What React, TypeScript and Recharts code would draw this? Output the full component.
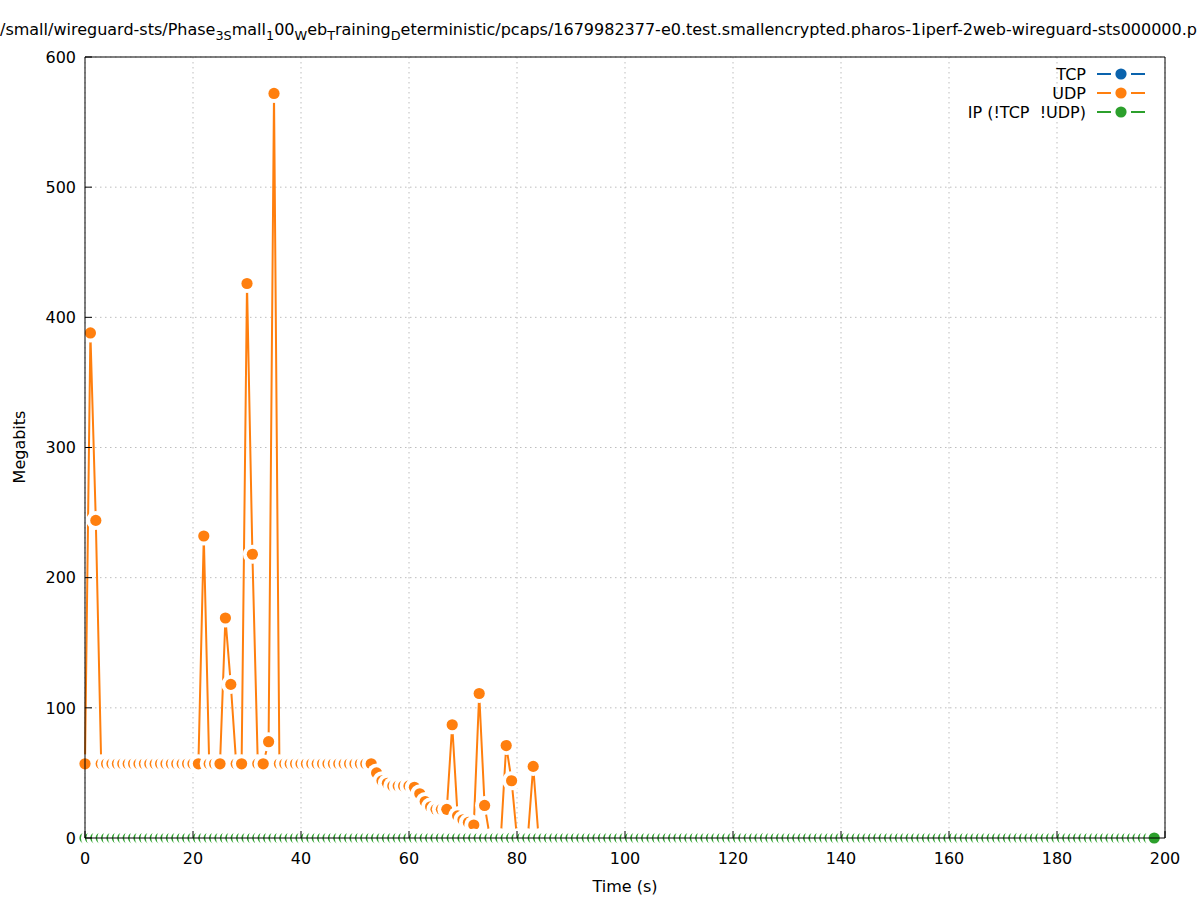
import React from 'react';
import { LineChart, Line, XAxis, YAxis, CartesianGrid } from 'recharts';

const W = 1197;
const H = 900;

// one bin per second, starting at t = 0
const udpMbit = [
  57, 388, 244, 57, 57, 57, 57, 57, 57, 57, // 0-9
  57, 57, 57, 57, 57, 57, 57, 57, 57, 57, // 10-19
  57, 57, 232, 57, 57, 57, 169, 118, 57, 57, // 20-29
  426, 218, 57, 57, 74, 572, 57, 57, 57, 57, // 30-39
  57, 57, 57, 57, 57, 57, 57, 57, 57, 57, // 40-49
  57, 57, 57, 57, 50, 44, 42, 40, 40, 40, // 50-59
  40, 39, 34, 28, 24, 22, 22, 22, 87, 17, // 60-69
  14, 12, 10, 111, 25, 0, 0, 0, 71, 44, // 70-79
  0, 0, 0, 55, 0, // 80-84
];

// IP (!TCP !UDP): flat zero, 0-198 s
const ipMbit = [
  0, 0, 0, 0, 0, 0, 0, 0, 0, 0, 0, 0, 0, 0, 0, 0, 0, 0, 0, 0,
  0, 0, 0, 0, 0, 0, 0, 0, 0, 0, 0, 0, 0, 0, 0, 0, 0, 0, 0, 0,
  0, 0, 0, 0, 0, 0, 0, 0, 0, 0, 0, 0, 0, 0, 0, 0, 0, 0, 0, 0,
  0, 0, 0, 0, 0, 0, 0, 0, 0, 0, 0, 0, 0, 0, 0, 0, 0, 0, 0, 0,
  0, 0, 0, 0, 0, 0, 0, 0, 0, 0, 0, 0, 0, 0, 0, 0, 0, 0, 0, 0,
  0, 0, 0, 0, 0, 0, 0, 0, 0, 0, 0, 0, 0, 0, 0, 0, 0, 0, 0, 0,
  0, 0, 0, 0, 0, 0, 0, 0, 0, 0, 0, 0, 0, 0, 0, 0, 0, 0, 0, 0,
  0, 0, 0, 0, 0, 0, 0, 0, 0, 0, 0, 0, 0, 0, 0, 0, 0, 0, 0, 0,
  0, 0, 0, 0, 0, 0, 0, 0, 0, 0, 0, 0, 0, 0, 0, 0, 0, 0, 0, 0,
  0, 0, 0, 0, 0, 0, 0, 0, 0, 0, 0, 0, 0, 0, 0, 0, 0, 0, 0,
];

const xTicks = [0, 20, 40, 60, 80, 100, 120, 140, 160, 180, 200];
const yTicks = [0, 100, 200, 300, 400, 500, 600];

const series = [
  { key: 'tcp', name: 'TCP', color: '#0a63ad' },
  { key: 'udp', name: 'UDP', color: '#ff7f0e' },
  { key: 'ip', name: 'IP (!TCP  !UDP)', color: '#2ca02c' },
];

// gnuplot escapes: underscores turned the next char into a subscript
const titleParts: [string, boolean][] = [
  ['/small/wireguard-sts/Phase', false],
  ['3S', true],
  ['mall', false],
  ['1', true],
  ['00', false],
  ['W', true],
  ['eb', false],
  ['T', true],
  ['raining', false],
  ['D', true],
  ['eterministic/pcaps/1679982377-e0.test.smallencrypted.pharos-1iperf-2web-wireguard-sts000000.p', false],
];

const rows = ipMbit.map((ip, i) => ({
  t: i,
  ip,
  udp: i < udpMbit.length ? udpMbit[i] : null,
}));

const FONT = '"DejaVu Sans", sans-serif';
const MARGIN = { top: 56, right: 31, bottom: 0, left: 0 };

// filled circle on a white pad, like gnuplot's pointinterval gap
const makeDot = (color: string) => (props: any) => {
  const { cx, cy, index } = props;
  if (cx == null || cy == null || Number.isNaN(cy)) return <g key={`d${index}`} />;
  return (
    <g key={`d${index}`}>
      <circle cx={cx} cy={cy} r={9.5} fill="#fff" />
      <circle cx={cx} cy={cy} r={5.6} fill={color} />
    </g>
  );
};

const axisStyle = { stroke: '#000', strokeWidth: 1 };
const tickStyle = { fill: '#000', fontSize: 16, fontFamily: FONT };
const ghostTick = { fill: 'transparent', fontSize: 16, fontFamily: FONT };

// border + inward tics; once under the plot (layout + grid), once visible on top
const renderAxes = (show: boolean) => [
  <XAxis
    key="xb"
    dataKey="t"
    type="number"
    domain={[0, 200]}
    ticks={xTicks}
    interval={0}
    height={62}
    tickSize={-7}
    tickMargin={22}
    axisLine={show ? axisStyle : false}
    tickLine={show ? axisStyle : false}
    tick={show ? tickStyle : ghostTick}
  />,
  <XAxis
    key="xt"
    xAxisId="top"
    orientation="top"
    dataKey="t"
    type="number"
    domain={[0, 200]}
    ticks={xTicks}
    interval={0}
    height={1}
    tickSize={-7}
    axisLine={show ? axisStyle : false}
    tickLine={show ? axisStyle : false}
    tick={false}
  />,
  <YAxis
    key="yl"
    type="number"
    domain={[0, 600]}
    ticks={yTicks}
    interval={0}
    width={85}
    tickSize={-7}
    tickMargin={16}
    axisLine={show ? axisStyle : false}
    tickLine={show ? axisStyle : false}
    tick={show ? tickStyle : ghostTick}
  />,
  <YAxis
    key="yr"
    yAxisId="right"
    orientation="right"
    type="number"
    domain={[0, 600]}
    ticks={yTicks}
    interval={0}
    width={1}
    tickSize={-7}
    axisLine={show ? axisStyle : false}
    tickLine={show ? axisStyle : false}
    tick={false}
  />,
];

const App = () => {
  return (
    <div style={{ position: 'absolute', left: 0, top: 0, width: W, height: H, background: '#fff', fontFamily: FONT }}>
      <LineChart width={W} height={H} data={rows} margin={MARGIN}>
        <CartesianGrid stroke="#bdbdbd" strokeDasharray="1.5 3.5" />
        {renderAxes(false)}
        <Line
          dataKey="udp"
          type="linear"
          stroke={series[1].color}
          strokeWidth={2}
          dot={makeDot(series[1].color)}
          activeDot={false}
          isAnimationActive={false}
        />
        <Line
          dataKey="ip"
          type="linear"
          stroke={series[2].color}
          strokeWidth={2}
          dot={makeDot(series[2].color)}
          activeDot={false}
          isAnimationActive={false}
        />
      </LineChart>

      {/* second pass so the border sits on top of the points, as in gnuplot */}
      <div style={{ position: 'absolute', left: 0, top: 0, pointerEvents: 'none' }}>
        <LineChart width={W} height={H} data={rows} margin={MARGIN}>
          {renderAxes(true)}
          <Line dataKey="udp" stroke="none" dot={false} activeDot={false} isAnimationActive={false} />
          <Line
            dataKey="ip"
            xAxisId="top"
            yAxisId="right"
            stroke="none"
            dot={false}
            activeDot={false}
            isAnimationActive={false}
          />
        </LineChart>
      </div>

      <svg
        width={W}
        height={H}
        style={{ position: 'absolute', left: 0, top: 0, pointerEvents: 'none', fontFamily: FONT }}
      >
        <text x={0} y={35} fontSize={16} fill="#000" style={{ whiteSpace: 'pre' }}>
          {titleParts.map(([s, sub], i) => {
            const prevSub = i > 0 && titleParts[i - 1][1];
            const dy = sub ? 4.5 : prevSub ? -4.5 : 0;
            return (
              <tspan key={i} dy={dy} fontSize={sub ? 12.8 : 16}>
                {s}
              </tspan>
            );
          })}
        </text>

        <text x={625} y={892} fontSize={16} textAnchor="middle" fill="#000">
          Time (s)
        </text>
        <text
          x={25}
          y={447}
          fontSize={16}
          textAnchor="middle"
          fill="#000"
          transform="rotate(-90 25 447)"
        >
          Megabits
        </text>

        {series.map((s, i) => {
          const y = 74 + i * 19;
          return (
            <g key={s.key}>
              <text x={1086} y={y + 5.5} fontSize={16} textAnchor="end" fill="#000" style={{ whiteSpace: 'pre' }}>
                {s.name}
              </text>
              <line x1={1097} x2={1111} y1={y} y2={y} stroke={s.color} strokeWidth={2} />
              <line x1={1131} x2={1145} y1={y} y2={y} stroke={s.color} strokeWidth={2} />
              <circle cx={1121} cy={y} r={5.6} fill={s.color} />
            </g>
          );
        })}
      </svg>
    </div>
  );
};

export default App;
